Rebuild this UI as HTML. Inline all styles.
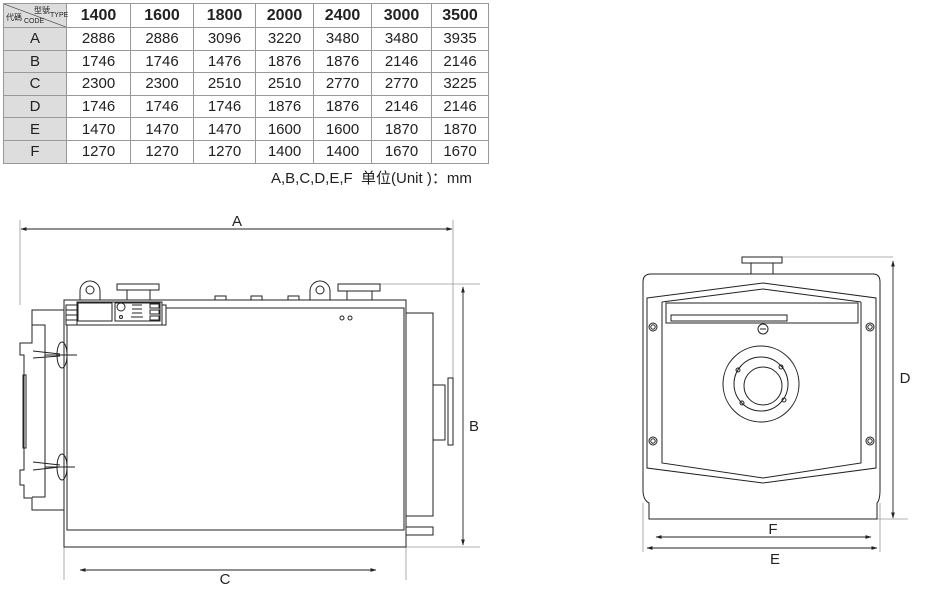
<!DOCTYPE html>
<html><head><meta charset="utf-8"><style>
body{margin:0;width:925px;height:594px;background:#fff;overflow:hidden;position:relative;font-family:"Liberation Sans","Noto Sans CJK SC",sans-serif;}
table{position:absolute;left:3px;top:3px;border-collapse:collapse;}
td{border:1px solid #999;height:21.6px;padding:0;text-align:center;font-size:15px;color:#222;}
tr.h td{height:23px;font-weight:bold;font-size:16px;}
td.c{background:#ddd;width:62px;}
.cap{position:absolute;left:271px;top:167px;font-size:15px;color:#222;}
svg{position:absolute;left:0;top:0;}
</style></head><body>
<table>
<tr class="h"><td class="c" style="position:relative;font-size:8px;font-weight:normal">
<svg width="62" height="23" style="left:0;top:0"><line x1="0" y1="0" x2="62" y2="23" stroke="#555" stroke-width="0.8"/></svg>
<span style="position:absolute;left:30px;top:1px">型號</span><span style="position:absolute;left:2px;top:8px">代碼</span><span style="position:absolute;left:46px;top:8px;font-size:7px">TYPE</span><span style="position:absolute;left:20px;top:14px;font-size:7px">CODE</span></td>
<td style="width:63px">1400</td><td style="width:62px">1600</td><td style="width:61px">1800</td><td style="width:57px">2000</td><td style="width:57px">2400</td><td style="width:59px">3000</td><td style="width:56px">3500</td></tr>
<tr><td class="c">A</td><td>2886</td><td>2886</td><td>3096</td><td>3220</td><td>3480</td><td>3480</td><td>3935</td></tr>
<tr><td class="c">B</td><td>1746</td><td>1746</td><td>1476</td><td>1876</td><td>1876</td><td>2146</td><td>2146</td></tr>
<tr><td class="c">C</td><td>2300</td><td>2300</td><td>2510</td><td>2510</td><td>2770</td><td>2770</td><td>3225</td></tr>
<tr><td class="c">D</td><td>1746</td><td>1746</td><td>1746</td><td>1876</td><td>1876</td><td>2146</td><td>2146</td></tr>
<tr><td class="c">E</td><td>1470</td><td>1470</td><td>1470</td><td>1600</td><td>1600</td><td>1870</td><td>1870</td></tr>
<tr><td class="c">F</td><td>1270</td><td>1270</td><td>1270</td><td>1400</td><td>1400</td><td>1670</td><td>1670</td></tr>
</table>
<div class="cap">A,B,C,D,E,F&nbsp; 单位(Unit )：mm</div>
<svg width="925" height="594">
<defs><marker id="ar" viewBox="0 0 10 10" refX="9" refY="5" markerWidth="7" markerHeight="7" orient="auto-start-reverse"><path d="M0,2 L10,5 L0,8z" fill="#222"/></marker></defs>
<g stroke="#999" stroke-width="0.8" fill="none">
<line x1="20" y1="220" x2="20" y2="305"/><line x1="453" y1="220" x2="453" y2="378"/>
<line x1="380" y1="284" x2="480" y2="284"/><line x1="406" y1="547" x2="480" y2="547"/>
<line x1="64" y1="547" x2="64" y2="580"/><line x1="406" y1="547" x2="406" y2="580"/>
<line x1="782" y1="257" x2="893" y2="257"/><line x1="877" y1="519" x2="908" y2="519"/>
<line x1="643" y1="503" x2="643" y2="552"/><line x1="880" y1="503" x2="880" y2="552"/>
</g>
<g stroke="#222" stroke-width="0.9" fill="none" marker-start="url(#ar)" marker-end="url(#ar)">
<line x1="21" y1="229" x2="452" y2="229"/>
<line x1="463" y1="287" x2="463" y2="545"/>
<line x1="80" y1="570" x2="376" y2="570"/>
<line x1="893" y1="261" x2="893" y2="518"/>
<line x1="656" y1="537" x2="871" y2="537"/>
<line x1="647" y1="548" x2="877" y2="548"/>
</g>
<g font-size="15" fill="#222" text-anchor="middle" font-family="Liberation Sans,sans-serif">
<text x="237" y="226">A</text><text x="474" y="431">B</text><text x="225" y="584">C</text>
<text x="905" y="383">D</text><text x="773" y="534">F</text><text x="775" y="564">E</text>
</g>
<g stroke="#222" stroke-width="1" fill="none">
<!-- side view -->
<rect x="64" y="300" width="342" height="247"/>
<rect x="67" y="308" width="337" height="222"/>
<path d="M64 310 H32 V343 H20 V355 H24 V470 H20 V485 H24 V498 H32 V510 H64"/>
<path d="M32 325 H45 V497 H32"/>
<rect x="23" y="375" width="3" height="73"/>
<path d="M33 351 L60 354 M33 358 L60 356 M33 462 L60 465 M33 470 L60 467"/>
<ellipse cx="62" cy="355" rx="5" ry="13"/><ellipse cx="62" cy="467" rx="5" ry="13"/>
<line x1="45" y1="355" x2="77" y2="355"/><line x1="45" y1="467" x2="75" y2="467"/>
<path d="M406 313 H433 V516 H406"/>
<rect x="433" y="385" width="12" height="55"/><rect x="448" y="378" width="5" height="67"/>
<rect x="406" y="527" width="27" height="8"/>
<rect x="66" y="305" width="100" height="20" fill="#fff"/>
<rect x="77" y="302" width="85" height="23" fill="#fff"/>
<rect x="78" y="303" width="34" height="18"/><rect x="115" y="303" width="45" height="18"/>
<circle cx="121" cy="307" r="4"/><circle cx="121" cy="317" r="1.5"/>
<path d="M132 305 H142 M132 309 H142 M132 313 H142 M131 317 H143"/>
<rect x="150" y="304" width="9" height="4"/><rect x="150" y="310" width="9" height="4"/><rect x="150" y="316" width="9" height="4"/>
<path d="M66 310 H77 M66 315 H77 M66 320 H77"/>
<path d="M80 300 V291 A10 10 0 0 1 100 291 V300"/><circle cx="90" cy="290" r="4"/>
<path d="M310 300 V291 A10 10 0 0 1 330 291 V300"/><circle cx="320" cy="290" r="4"/>
<rect x="117" y="284" width="42" height="6"/><rect x="127" y="290" width="23" height="10"/>
<rect x="338" y="284" width="42" height="7"/><rect x="347" y="291" width="25" height="9"/>
<rect x="215" y="296" width="11" height="4"/><rect x="251" y="296" width="11" height="4"/><rect x="288" y="296" width="11" height="4"/>
<circle cx="342" cy="318" r="2"/><circle cx="350" cy="318" r="2"/>
<!-- front view -->
<path d="M649 519 V503 Q643 500 643 490 V282 Q643 274 651 274 H873 Q880 274 880 282 V490 Q880 500 877 503 V519 Z"/>
<rect x="742" y="257" width="40" height="6"/><rect x="751" y="263" width="22" height="11"/>
<polygon points="647,298 763,283 876,298 876,468 763,483 647,468"/>
<polyline points="662,302 763,289 861,302"/>
<path d="M662 302 V463 L763 478 L861 463 V302"/>
<rect x="666" y="303" width="192" height="20"/>
<rect x="671" y="315" width="116" height="6"/>
<g><circle cx="653" cy="327" r="4"/><circle cx="653" cy="327" r="2.2"/>
<circle cx="870" cy="327" r="4"/><circle cx="870" cy="327" r="2.2"/>
<circle cx="653" cy="441" r="4"/><circle cx="653" cy="441" r="2.2"/>
<circle cx="870" cy="441" r="4"/><circle cx="870" cy="441" r="2.2"/>
<circle cx="763" cy="329" r="5"/><line x1="760" y1="329" x2="766" y2="329"/></g>
<circle cx="761" cy="384" r="38"/><circle cx="761" cy="384" r="27"/><circle cx="763" cy="386" r="19"/>
<circle cx="738" cy="370" r="2"/><circle cx="781" cy="367" r="2"/><circle cx="742" cy="403" r="2"/><circle cx="784" cy="400" r="2"/>
</g>
</svg>
</body></html>
